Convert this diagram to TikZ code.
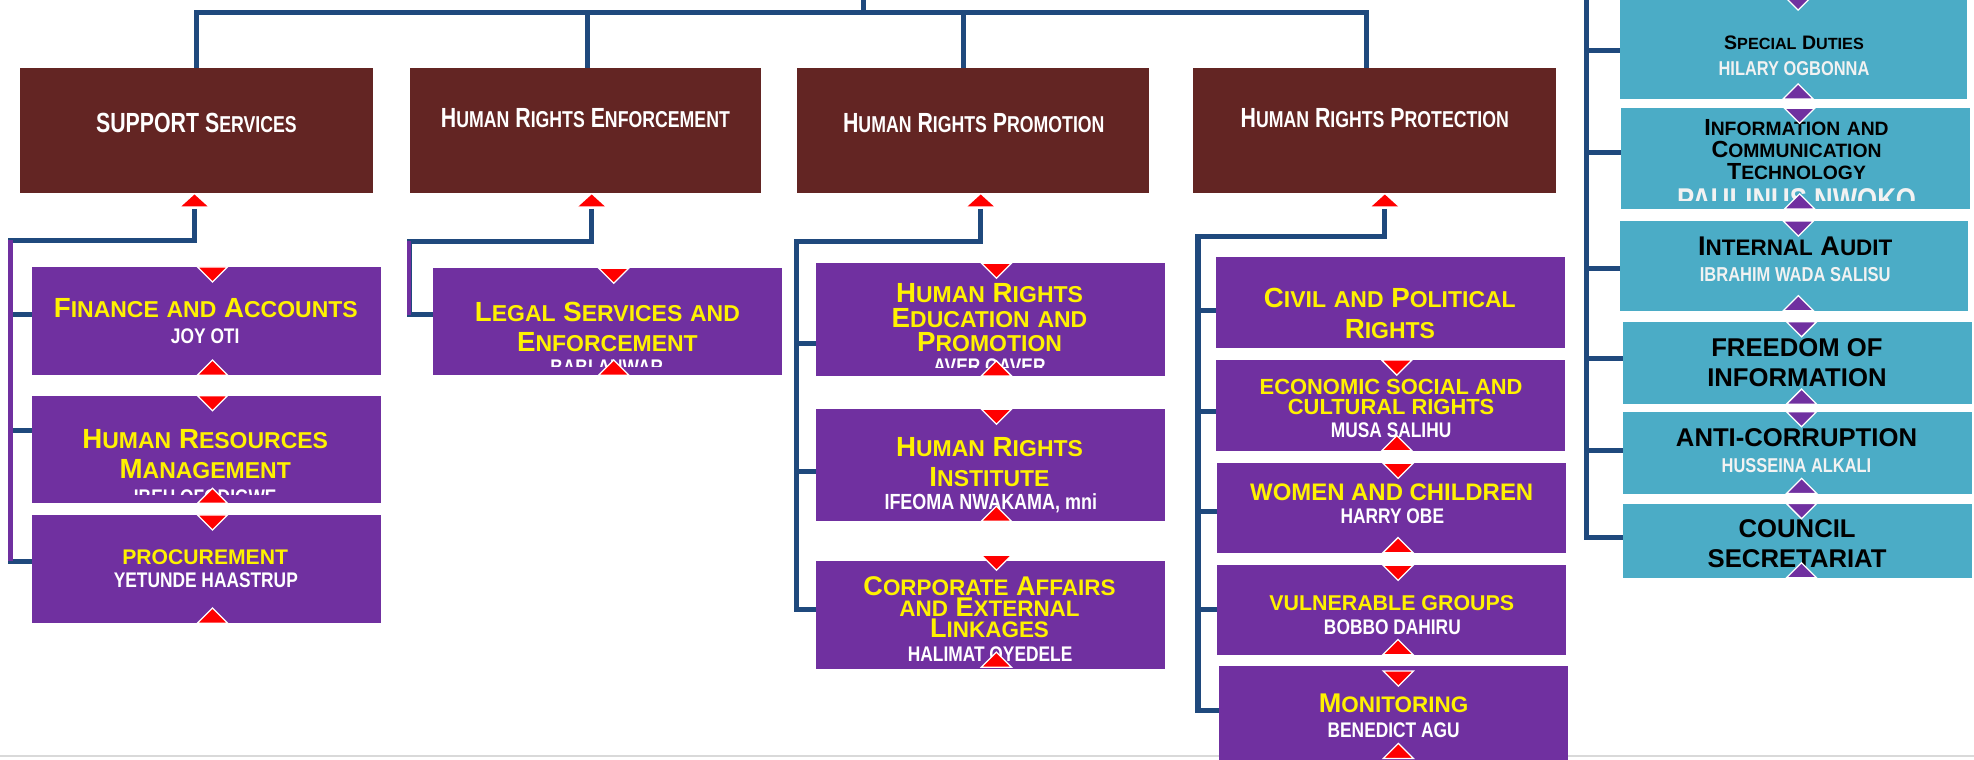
\documentclass[tikz,border=0pt]{standalone}
\usepackage{fontspec}
\usepackage{graphicx}
\setmainfont{Liberation Sans}
\newfontfamily\headface{Liberation Sans}[FakeStretch=0.77]
\newfontfamily\unitface{Liberation Sans}
\newfontfamily\nameface{Liberation Sans}[FakeStretch=0.82]
\usepackage{tikz}

\definecolor{hrbrown}{HTML}{632523}
\definecolor{hrpurple}{HTML}{7030A0}
\definecolor{hrteal}{HTML}{4BACC6}
\definecolor{hrblue}{HTML}{1F497D}
\definecolor{hrgrey}{HTML}{F2F2F2}
\definecolor{pagegrey}{HTML}{D9D9D9}

\newcommand\smc[1]{\scalebox{0.83}{#1}}

\begin{document}
\begin{tikzpicture}[x=1pt, y=-1pt,
		box/.style={minimum width=277, inner sep=0pt, outer sep=0pt},
		head/.style={box, fill=hrbrown, minimum height=98.7},
		unit/.style={box, fill=hrpurple},
		office/.style={box, fill=hrteal},
		link/.style={draw=hrblue, line width=4pt},
		rail/.style={draw=hrpurple, line width=3.5pt},
		headlbl/.style={text=white, inner sep=0pt, font=\headface\bfseries\fontsize{22}{24}\selectfont},
		unitlbl/.style 2 args={text=yellow, inner sep=0pt, align=center, font=\unitface\bfseries\fontsize{#1}{#2}\selectfont},
		offlbl/.style 2 args={text=black, inner sep=0pt, align=center, font=\unitface\bfseries\fontsize{#1}{#2}\selectfont},
		namelbl/.style={text=white, inner sep=0pt, font=\nameface\bfseries\fontsize{#1}{#1}\selectfont},
		namelbl/.default=16.8,
		offname/.style={namelbl=#1, text=hrgrey},
		offname/.default=15.9,
		pics/downmark/.style={code={\filldraw[fill=#1, draw=white, line width=1pt] (-12,0) -- (12,0) -- (0,12) -- cycle;}},
		pics/upmark/.style={code={\filldraw[fill=#1, draw=white, line width=1pt] (-12,0) -- (12,0) -- (0,-12) -- cycle;}},
		pics/headmark/.style={code={\fill[red] (-10.5,0) -- (10.5,0) -- (0,-9.5) -- cycle;}}
	]
	\useasboundingbox (0,0) rectangle (1568,603);
	\draw[pagegrey, line width=1.5pt] (0,600.5) -- (1568,600.5);

	% directorates
	\node[head, minimum width=280]   (sup)  at (156,103.7)    {};
	\node[head, minimum width=278.5] (enf)  at (465,103.7)    {};
	\node[head, minimum width=280]   (pro)  at (773,103.7)    {};
	\node[head, minimum width=288]   (prot) at (1091.6,103.7) {};

	% departments
	\node[unit, minimum height=86]   (fin)   at (163.8,255)    {};
	\node[unit, minimum height=85.5] (hr)    at (163.8,357)    {};
	\node[unit, minimum height=86]   (proc)  at (163.8,452)    {};
	\node[unit, minimum height=85]   (legal) at (482.5,255.5)  {};
	\node[unit, minimum height=89.6] (hre)   at (786.5,253.8)  {};
	\node[unit, minimum height=89]   (hri)   at (786.5,369.5)  {};
	\node[unit, minimum height=85]   (cael)  at (786.5,488.5)  {};
	\node[unit, minimum height=72.6] (civil) at (1104.5,240.3) {};
	\node[unit, minimum height=72]   (eco)   at (1104.5,322)   {};
	\node[unit, minimum height=71]   (women) at (1105.5,403.5) {};
	\node[unit, minimum height=71]   (vg)    at (1105.5,484.5) {};
	\node[unit, minimum height=81]   (mon)   at (1106.7,569.5) {};

	% offices
	\node[office, minimum width=275.5, minimum height=82.6] (sd) at (1424.8,37.3) {};
	\node[office, minimum height=80]   (ict) at (1426,126)     {};
	\node[office, minimum height=71.3] (ia)  at (1425,211.2)   {};
	\node[office, minimum height=65.5] (foi) at (1427.5,288.3) {};
	\node[office, minimum height=65]   (ac)  at (1427.5,359.5) {};
	\node[office, minimum height=59]   (cs)  at (1427.5,429.5) {};

	% top bus
	\coordinate (root) at (685.6,-3);
	\coordinate (bus)  at (685.6,10);
	\draw[link] (root) -- (bus);
	\draw[link] (sup.north) |- (bus) -| ([xshift=-6pt]prot.north);
	\draw[link] ([xshift=2pt]enf.north) |- (bus);
	\draw[link] ([xshift=-8pt]pro.north) |- (bus);

	% columns
	\coordinate (supk)  at (154.5,166);
	\coordinate (enfk)  at (470,166);
	\coordinate (prok)  at (779,166);
	\coordinate (protk) at (1100,166);
	\coordinate (supr)  at (8.5,191);
	\coordinate (supe)  at (8.5,446);
	\coordinate (enfr)  at (325,191.5);
	\coordinate (enfe)  at (325,250);
	\coordinate (pror)  at (633,192);
	\coordinate (protr) at (951.6,188);
	\coordinate (offt)  at (1260,-4);

	\draw[link] (supk) |- (supr) |- ([yshift=6pt]proc.west);
	\draw[link] (supr) |- ([yshift=5pt]fin.west);
	\draw[link] (supr) |- ([yshift=15pt]hr.west);
	\draw[rail] (supr) -- (supe);

	\draw[link] (enfk) |- (enfr) |- ([yshift=5.5pt]legal.west);
	\draw[rail] (enfr) -- (enfe);

	\draw[link] (prok) |- (pror) |- ([yshift=4.5pt]cael.west);
	\draw[link] (pror) |- ([yshift=-18.7pt]hre.west);
	\draw[link] (pror) |- ([yshift=-5pt]hri.west);

	\draw[link] (protk) |- (protr) |- ([yshift=5.5pt]mon.west);
	\draw[link] (protr) |- ([yshift=-6.7pt]civil.west);
	\draw[link] (protr) |- ([yshift=-5pt]eco.west);
	\draw[link] (protr) |- ([yshift=-2.5pt]women.west);
	\draw[link] (protr) |- (vg.west);

	\draw[link] (offt) |- ([yshift=2.5pt]cs.west);
	\draw[link] (offt) |- ([yshift=-2.7pt]sd.west);
	\draw[link] (offt) |- ([yshift=5pt]ict.west);
	\draw[link] (offt) |- ([yshift=-1.8pt]ia.west);
	\draw[link] (offt) |- ([yshift=3.8pt]foi.west);
	\draw[link] (offt) |- ([yshift=1.5pt]ac.west);

	% labels
	\node[headlbl] (sup-t)  at (156,98)   {SUPPORT S\smc{ERVICES}};
	\node[headlbl] (enf-t)  at (465,94)   {H\smc{UMAN} R\smc{IGHTS} E\smc{NFORCEMENT}};
	\node[headlbl] (pro-t)  at (773.5,98) {H\smc{UMAN} R\smc{IGHTS} P\smc{ROMOTION}};
	\node[headlbl] (prot-t) at (1092,94)  {H\smc{UMAN} R\smc{IGHTS} P\smc{ROTECTION}};

	\node[unitlbl={22}{24}]     (fin-t)   at (163.5,245)    {F\smc{INANCE} \smc{AND} A\smc{CCOUNTS}};
	\node[namelbl]              (fin-n)   at (163,267)      {JOY OTI};
	\node[unitlbl={22}{23.5}]   (hr-t)    at (163,360.7)    {H\smc{UMAN} R\smc{ESOURCES}\\M\smc{ANAGEMENT}};
	\node[unitlbl={16.8}{18}]   (proc-t)  at (163,443)      {PROCUREMENT};
	\node[namelbl]              (proc-n)  at (163.5,461)    {YETUNDE HAASTRUP};
	\node[unitlbl={22}{24}]     (legal-t) at (482.5,260)    {L\smc{EGAL} S\smc{ERVICES} \smc{AND}\\E\smc{NFORCEMENT}};
	\node[unitlbl={22}{19.25}]  (hre-t)   at (786,252.3)    {H\smc{UMAN} R\smc{IGHTS}\\E\smc{DUCATION} \smc{AND}\\P\smc{ROMOTION}};
	\node[unitlbl={22}{24}]     (hri-t)   at (786,367)      {H\smc{UMAN} R\smc{IGHTS}\\I\smc{NSTITUTE}};
	\node[namelbl=17.4]         (hri-n)   at (787,400)      {IFEOMA NWAKAMA, mni};
	\node[unitlbl={21.5}{16.8}] (cael-t)  at (786,482.5)    {C\smc{ORPORATE} A\smc{FFAIRS}\\\smc{AND} E\smc{XTERNAL}\\L\smc{INKAGES}};
	\node[namelbl]              (cael-n)  at (786.5,519.5)  {HALIMAT OYEDELE};
	\node[unitlbl={22}{24}]     (civil-t) at (1104,249)     {C\smc{IVIL} \smc{AND} P\smc{OLITICAL}\\R\smc{IGHTS}};
	\node[unitlbl={17.4}{15.5}] (eco-t)   at (1105,315.5)   {ECONOMIC SOCIAL AND\\CULTURAL RIGHTS};
	\node[namelbl]              (eco-n)   at (1105,342)     {MUSA SALIHU};
	\node[unitlbl={19}{20}]     (women-t) at (1105.5,391)   {WOMEN AND CHILDREN};
	\node[namelbl]              (women-n) at (1106,410)     {HARRY OBE};
	\node[unitlbl={17}{18}]     (vg-t)    at (1105.5,479.3) {VULNERABLE GROUPS};
	\node[namelbl]              (vg-n)    at (1106,498.5)   {BOBBO DAHIRU};
	\node[unitlbl={21.5}{22}]   (mon-t)   at (1107,559)     {M\smc{ONITORING}};
	\node[namelbl]              (mon-n)   at (1107,580)     {BENEDICT AGU};

	\node[offlbl={15.5}{17}]    (sd-t)  at (1425,33.7)    {S\smc{PECIAL} D\smc{UTIES}};
	\node[offname]              (sd-n)  at (1425,54.7)    {HILARY OGBONNA};
	\node[offlbl={18.5}{17.5}]  (ict-t) at (1427,119)     {I\smc{NFORMATION} \smc{AND}\\C\smc{OMMUNICATION}\\T\smc{ECHNOLOGY}};
	\node[offlbl={21.5}{22}]    (ia-t)  at (1426,195.3)   {I\smc{NTERNAL} A\smc{UDIT}};
	\node[offname=16]           (ia-n)  at (1426,218.4)   {IBRAHIM WADA SALISU};
	\node[offlbl={20.4}{23.6}]  (foi-t) at (1427.3,287.8) {FREEDOM OF\\INFORMATION};
	\node[offlbl={20.4}{22}]    (ac-t)  at (1427,347.6)   {ANTI-CORRUPTION};
	\node[offname]              (ac-n)  at (1427,369.8)   {HUSSEINA ALKALI};
	\node[offlbl={20.4}{23.7}]  (cs-t)  at (1427.5,431.9) {COUNCIL\\SECRETARIAT};

	% names cut off by the text frame
	\begin{scope}
		\clip (hr.north west) rectangle ([yshift=7pt]hr.south east);
		\node[namelbl] (hr-n) at (163,394.6) {IBEH OFODIGWE};
	\end{scope}
	\begin{scope}
		\clip (legal.north west) rectangle ([yshift=7pt]legal.south east);
		\node[namelbl] (legal-n) at (482,292) {BABI ANWAR};
	\end{scope}
	\begin{scope}
		\clip (hre.north west) rectangle ([yshift=7pt]hre.south east);
		\node[namelbl] (hre-n) at (786,291) {AVER GAVER};
	\end{scope}
	\begin{scope}
		\clip (ict.north west) rectangle ([yshift=7pt]ict.south east);
		\node[offname=25] (ict-n) at (1427,158.5) {PAULINUS NWOKO};
	\end{scope}

	% markers
	\path (supk) ++(0,-2) pic {headmark} (enfk) ++(0,-2) pic {headmark}
		(prok) ++(0,-2) pic {headmark} (protk) ++(0,-2) pic {headmark};
	\foreach \u in {fin,hr,proc,legal,hre,hri,eco,women,vg}{
		\path ([xshift=5pt]\u.north) pic {downmark=red}
			([xshift=5pt]\u.south) pic {upmark=red};
	}
	\path ([xshift=5pt,yshift=5pt]cael.north) pic {downmark=red}
		([xshift=5pt,yshift=1pt]cael.south) pic {upmark=red};
	\path ([xshift=4pt,yshift=-4pt]mon.north) pic {downmark=red}
		([xshift=4pt,yshift=7.5pt]mon.south) pic {upmark=red};
	\foreach \o in {sd,ict,ia,foi,ac,cs}{
		\path ([xshift=3.5pt]\o.north) pic {downmark=hrpurple}
			([xshift=3.5pt]\o.south) pic {upmark=hrpurple};
	}
\end{tikzpicture}
\end{document}
